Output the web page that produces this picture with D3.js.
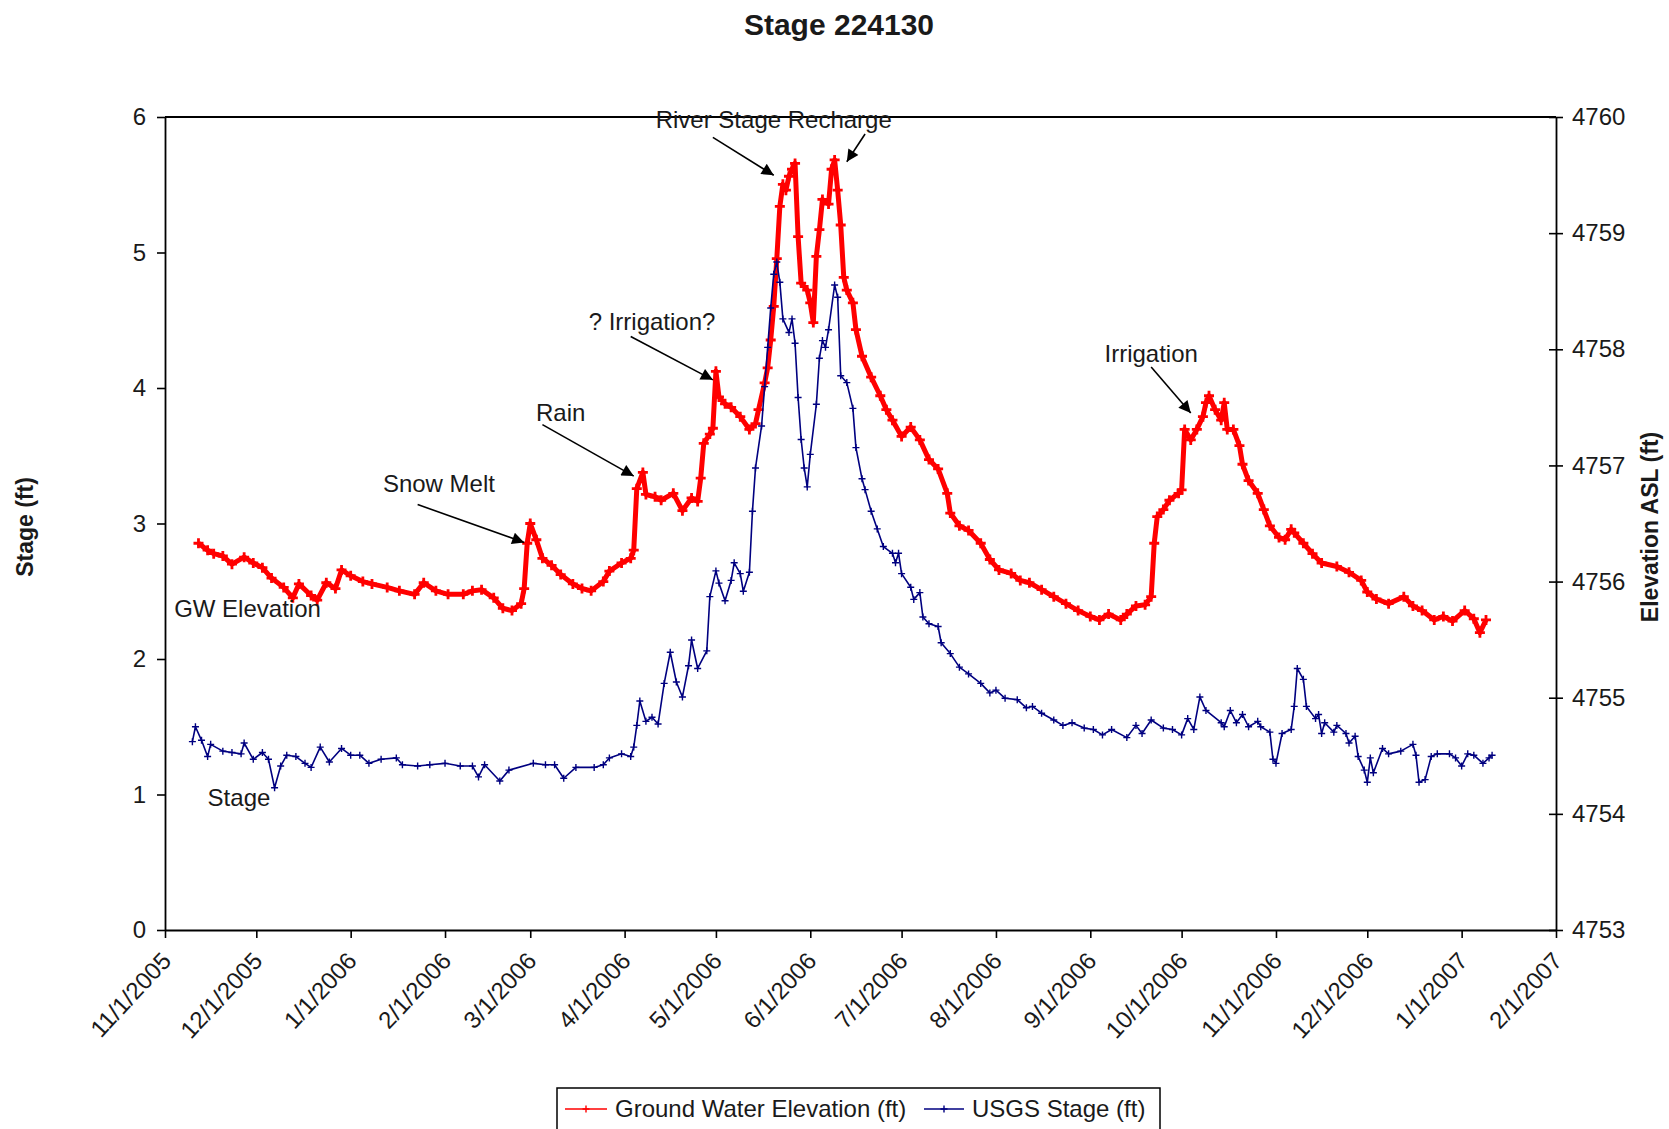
<!DOCTYPE html>
<html>
<head>
<meta charset="utf-8">
<script src="https://cdn.jsdelivr.net/npm/d3@7"></script>
<style>
  html, body { margin: 0; padding: 0; background: #fff; }
  svg text { font-family: "Liberation Sans", Arial, sans-serif; fill: #1a1a1a; }
</style>
</head>
<body>
<svg id="chart" width="1669" height="1129"></svg>
<script>
// ---- USGS stage (ft), left axis ----
const stageDates = [
  "2005-11-10","2005-11-11","2005-11-13","2005-11-15","2005-11-16","2005-11-20","2005-11-23","2005-11-26","2005-11-27","2005-11-30",
  "2005-12-03","2005-12-05","2005-12-07","2005-12-09","2005-12-11","2005-12-14","2005-12-17","2005-12-19","2005-12-22","2005-12-25","2005-12-29",
  "2006-01-01","2006-01-04","2006-01-07","2006-01-11","2006-01-16","2006-01-18","2006-01-23","2006-01-27",
  "2006-02-01","2006-02-06","2006-02-10","2006-02-12","2006-02-14","2006-02-19","2006-02-22",
  "2006-03-02","2006-03-06","2006-03-09","2006-03-12","2006-03-16","2006-03-22","2006-03-25","2006-03-27","2006-03-31",
  "2006-04-03","2006-04-04","2006-04-05","2006-04-06","2006-04-08","2006-04-10","2006-04-12","2006-04-14","2006-04-16","2006-04-18","2006-04-20","2006-04-22","2006-04-23","2006-04-25","2006-04-28","2006-04-29",
  "2006-05-01","2006-05-02","2006-05-04","2006-05-06","2006-05-07","2006-05-09","2006-05-10","2006-05-12","2006-05-13","2006-05-14","2006-05-16","2006-05-17","2006-05-18","2006-05-19","2006-05-20","2006-05-21","2006-05-22","2006-05-23","2006-05-25","2006-05-26","2006-05-27","2006-05-28","2006-05-29","2006-05-30","2006-05-31",
  "2006-06-01","2006-06-03","2006-06-04","2006-06-05","2006-06-06","2006-06-07","2006-06-09","2006-06-10","2006-06-11","2006-06-13","2006-06-15","2006-06-16","2006-06-18","2006-06-19","2006-06-21","2006-06-23","2006-06-25","2006-06-28","2006-06-29","2006-06-30",
  "2006-07-01","2006-07-04","2006-07-05","2006-07-07","2006-07-08","2006-07-10","2006-07-13","2006-07-14","2006-07-17","2006-07-20","2006-07-23","2006-07-27","2006-07-30",
  "2006-08-01","2006-08-04","2006-08-08","2006-08-11","2006-08-13","2006-08-16","2006-08-20","2006-08-23","2006-08-26","2006-08-30",
  "2006-09-02","2006-09-05","2006-09-08","2006-09-13","2006-09-16","2006-09-18","2006-09-21","2006-09-25","2006-09-28",
  "2006-10-01","2006-10-03","2006-10-05","2006-10-07","2006-10-09","2006-10-14","2006-10-15","2006-10-17","2006-10-19","2006-10-21","2006-10-23","2006-10-26","2006-10-27","2006-10-30","2006-10-31",
  "2006-11-01","2006-11-03","2006-11-06","2006-11-07","2006-11-08","2006-11-10","2006-11-11","2006-11-14","2006-11-15","2006-11-16","2006-11-17","2006-11-20","2006-11-21","2006-11-24","2006-11-25","2006-11-27","2006-11-28","2006-11-30",
  "2006-12-01","2006-12-02","2006-12-03","2006-12-06","2006-12-08","2006-12-12","2006-12-16","2006-12-17","2006-12-18","2006-12-20","2006-12-22","2006-12-24","2006-12-28","2006-12-30",
  "2007-01-01","2007-01-03","2007-01-05","2007-01-08","2007-01-10","2007-01-11"
];
const stageValues = [
  1.39,1.50,1.40,1.28,1.37,1.32,1.31,1.30,1.38,1.26,
  1.31,1.26,1.05,1.21,1.29,1.28,1.23,1.20,1.35,1.24,1.34,
  1.29,1.29,1.23,1.26,1.27,1.22,1.21,1.22,
  1.23,1.21,1.21,1.13,1.22,1.10,1.18,
  1.23,1.22,1.22,1.12,1.20,1.20,1.22,1.27,1.30,
  1.28,1.35,1.51,1.69,1.54,1.57,1.52,1.82,2.05,1.83,1.72,1.95,2.14,1.93,2.06,2.46,
  2.65,2.56,2.43,2.58,2.71,2.63,2.50,2.64,3.09,3.41,3.72,4.01,4.30,4.59,4.84,4.93,4.78,4.51,4.41,4.51,4.33,3.93,3.62,3.41,3.27,
  3.51,3.88,4.22,4.35,4.30,4.43,4.76,4.67,4.09,4.04,3.85,3.56,3.33,3.25,3.09,2.96,2.83,2.78,2.71,2.78,
  2.63,2.53,2.44,2.49,2.31,2.26,2.24,2.12,2.04,1.94,1.89,1.82,1.75,
  1.77,1.71,1.70,1.64,1.65,1.60,1.55,1.51,1.53,1.49,
  1.48,1.44,1.48,1.42,1.51,1.45,1.55,1.49,1.48,
  1.44,1.56,1.48,1.72,1.62,1.53,1.50,1.62,1.53,1.59,1.50,1.54,1.50,1.46,1.26,
  1.23,1.45,1.48,1.65,1.93,1.85,1.65,1.56,1.59,1.45,1.53,1.46,1.51,1.45,1.38,1.43,1.28,1.18,
  1.09,1.27,1.16,1.34,1.30,1.32,1.37,1.29,1.09,1.11,1.28,1.30,1.30,1.27,
  1.21,1.30,1.29,1.23,1.27,1.29
];

// ---- Ground water elevation (ft ASL), right axis ----
const gwDates = [
  "2005-11-12","2005-11-15","2005-11-17","2005-11-20","2005-11-23","2005-11-27","2005-11-30",
  "2005-12-03","2005-12-06","2005-12-10","2005-12-13","2005-12-15","2005-12-19","2005-12-21","2005-12-24","2005-12-27","2005-12-29",
  "2006-01-01","2006-01-05","2006-01-08","2006-01-13","2006-01-17","2006-01-22","2006-01-25","2006-01-29",
  "2006-02-02","2006-02-07","2006-02-10","2006-02-13","2006-02-17","2006-02-20","2006-02-23","2006-02-26","2006-02-27","2006-02-28",
  "2006-03-01","2006-03-03","2006-03-05","2006-03-08","2006-03-11","2006-03-15","2006-03-18","2006-03-21","2006-03-25","2006-03-27","2006-03-31",
  "2006-04-03","2006-04-04","2006-04-05","2006-04-07","2006-04-08","2006-04-11","2006-04-13","2006-04-17","2006-04-20","2006-04-23","2006-04-25","2006-04-26","2006-04-27","2006-04-29","2006-04-30",
  "2006-05-01","2006-05-02","2006-05-04","2006-05-06","2006-05-09","2006-05-12","2006-05-14","2006-05-15","2006-05-17","2006-05-18","2006-05-19","2006-05-20","2006-05-21","2006-05-22","2006-05-23","2006-05-24","2006-05-25","2006-05-26","2006-05-27","2006-05-28","2006-05-29","2006-05-31",
  "2006-06-01","2006-06-02","2006-06-03","2006-06-04","2006-06-05","2006-06-07","2006-06-08","2006-06-09","2006-06-10","2006-06-11","2006-06-12","2006-06-13","2006-06-15","2006-06-16","2006-06-18","2006-06-21","2006-06-24","2006-06-26","2006-06-28",
  "2006-07-01","2006-07-04","2006-07-07","2006-07-10","2006-07-13","2006-07-16","2006-07-17","2006-07-20","2006-07-23","2006-07-27","2006-07-30",
  "2006-08-02","2006-08-06","2006-08-09","2006-08-12","2006-08-16","2006-08-20","2006-08-24","2006-08-28",
  "2006-09-01","2006-09-04","2006-09-07","2006-09-11","2006-09-13","2006-09-16","2006-09-19","2006-09-21","2006-09-22","2006-09-23","2006-09-25","2006-09-27","2006-09-30",
  "2006-10-01","2006-10-02","2006-10-04","2006-10-06","2006-10-08","2006-10-09","2006-10-10","2006-10-12","2006-10-14","2006-10-15","2006-10-16","2006-10-18","2006-10-20","2006-10-21","2006-10-23","2006-10-26","2006-10-28","2006-10-30",
  "2006-11-02","2006-11-04","2006-11-06","2006-11-07","2006-11-10","2006-11-13","2006-11-16","2006-11-21","2006-11-25","2006-11-29",
  "2006-12-01","2006-12-04","2006-12-08","2006-12-13","2006-12-16","2006-12-19","2006-12-23","2006-12-26","2006-12-29",
  "2007-01-02","2007-01-05","2007-01-07","2007-01-09"
];
const gwValues = [
  4756.33,4756.27,4756.24,4756.22,4756.15,4756.21,4756.16,
  4756.12,4756.03,4755.95,4755.86,4755.98,4755.88,4755.84,4755.99,4755.94,4756.10,
  4756.05,4756.00,4755.98,4755.95,4755.92,4755.89,4755.99,4755.92,
  4755.89,4755.89,4755.92,4755.93,4755.86,4755.77,4755.75,4755.81,4755.94,4756.33,
  4756.50,4756.36,4756.20,4756.14,4756.06,4755.98,4755.94,4755.92,4756.00,4756.09,4756.16,
  4756.20,4756.27,4756.80,4756.94,4756.75,4756.73,4756.70,4756.76,4756.61,4756.72,4756.69,4756.89,4757.19,4757.27,4757.32,
  4757.81,4757.59,4757.53,4757.50,4757.42,4757.31,4757.36,4757.48,4757.71,4757.84,4758.08,4758.37,4758.78,4759.23,4759.42,4759.37,4759.49,4759.55,4759.60,4758.97,4758.57,4758.51,
  4758.40,4758.23,4758.80,4759.03,4759.29,4759.25,4759.55,4759.63,4759.37,4759.07,4758.62,4758.51,4758.40,4758.17,4757.94,4757.76,4757.60,4757.48,4757.39,
  4757.25,4757.33,4757.22,4757.05,4756.97,4756.76,4756.59,4756.48,4756.44,4756.33,4756.19,
  4756.10,4756.07,4756.01,4755.99,4755.93,4755.87,4755.81,4755.75,
  4755.70,4755.67,4755.72,4755.67,4755.72,4755.79,4755.80,4755.87,4756.33,4756.56,4756.62,4756.70,4756.76,
  4756.79,4757.31,4757.22,4757.31,4757.42,4757.54,4757.60,4757.48,4757.39,4757.54,4757.31,4757.31,4757.17,4757.01,4756.87,4756.76,4756.62,4756.48,
  4756.38,4756.36,4756.45,4756.42,4756.33,4756.24,4756.16,4756.13,4756.08,4756.01,
  4755.91,4755.85,4755.81,4755.87,4755.79,4755.75,4755.67,4755.70,4755.66,
  4755.75,4755.68,4755.56,4755.67
];

// ---- axis ticks ----
const monthTicks = ["2005-11-01","2005-12-01","2006-01-01","2006-02-01","2006-03-01","2006-04-01","2006-05-01","2006-06-01",
  "2006-07-01","2006-08-01","2006-09-01","2006-10-01","2006-11-01","2006-12-01","2007-01-01","2007-02-01"];
const stageTicks = [0, 1, 2, 3, 4, 5, 6];
const elevationTicks = [4753, 4754, 4755, 4756, 4757, 4758, 4759, 4760];

// ---- event notes (placed in date / stage units) ----
const noteText  = ["River Stage Recharge", "? Irrigation?", "Rain", "Snow Melt", "Irrigation", "GW Elevation", "Stage"];
const noteDate  = ["2006-05-20", "2006-04-10", "2006-03-11", "2006-01-30", "2006-09-21", "2005-11-04", "2005-11-15"];
const noteStage = [5.92, 4.43, 3.76, 3.23, 4.19, 2.31, 0.915];
const noteAnchor = ["middle", "middle", "middle", "middle", "middle", "start", "start"];

const arrowFromDate  = ["2006-04-30", "2006-06-19", "2006-04-03", "2006-03-05", "2006-01-23", "2006-09-21"];
const arrowFromStage = [5.85, 5.875, 4.38, 3.73, 3.14, 4.155];
const arrowToDate    = ["2006-05-20", "2006-06-13", "2006-04-30", "2006-04-04", "2006-02-27", "2006-10-04"];
const arrowToStage   = [5.57, 5.67, 4.06, 3.35, 2.86, 3.815];

// ---- drawing ----
const parse = d3.timeParse("%Y-%m-%d");
const svg = d3.select("#chart");

const plot = { left: 165, right: 1556, top: 117, bottom: 930 };

const x = d3.scaleTime()
  .domain([parse("2005-11-01"), parse("2007-02-01")])
  .range([plot.left, plot.right]);
const yStage = d3.scaleLinear().domain([0, 6]).range([plot.bottom, plot.top]);
const yElev = d3.scaleLinear().domain([4753, 4760]).range([plot.bottom, plot.top]);

const stageSeries = stageDates.map((d, i) => ({ date: parse(d), value: stageValues[i] }));
const gwSeries = gwDates.map((d, i) => ({ date: parse(d), value: gwValues[i] }));

svg.append("defs").append("marker")
  .attr("id", "arrowHead")
  .attr("viewBox", "0 0 10 10")
  .attr("refX", 10).attr("refY", 5)
  .attr("markerWidth", 15).attr("markerHeight", 12)
  .attr("markerUnits", "userSpaceOnUse")
  .attr("orient", "auto")
  .append("path").attr("d", "M0,0 L10,5 L0,10 z").attr("fill", "#000");

// title
svg.append("text")
  .attr("x", 839).attr("y", 35)
  .attr("text-anchor", "middle")
  .style("font-size", "30px").style("font-weight", "bold")
  .text("Stage 224130");

// plot frame top edge
svg.append("line")
  .attr("x1", plot.left).attr("x2", plot.right)
  .attr("y1", plot.top).attr("y2", plot.top)
  .attr("stroke", "#000").attr("stroke-width", 1.8);

// series
const crossPath = s => `M${-s},0H${s}M0,${-s}V${s}`;

const gwLine = d3.line().x(d => x(d.date)).y(d => yElev(d.value));
svg.append("path").datum(gwSeries)
  .attr("d", gwLine)
  .attr("fill", "none").attr("stroke", "#ff0000").attr("stroke-width", 5)
  .attr("stroke-linejoin", "round");
svg.append("g").selectAll("path").data(gwSeries).join("path")
  .attr("transform", d => `translate(${x(d.date)},${yElev(d.value)})`)
  .attr("d", crossPath(5))
  .attr("stroke", "#ff0000").attr("stroke-width", 2.8).attr("fill", "none");

const stageLine = d3.line().x(d => x(d.date)).y(d => yStage(d.value));
svg.append("path").datum(stageSeries)
  .attr("d", stageLine)
  .attr("fill", "none").attr("stroke", "#000080").attr("stroke-width", 1.6)
  .attr("stroke-linejoin", "round");
svg.append("g").selectAll("path").data(stageSeries).join("path")
  .attr("transform", d => `translate(${x(d.date)},${yStage(d.value)})`)
  .attr("d", crossPath(3.5))
  .attr("stroke", "#000080").attr("stroke-width", 1.4).attr("fill", "none");

// axes
function styleAxis(g) {
  g.select(".domain").attr("stroke", "#000").attr("stroke-width", 1.8);
  g.selectAll(".tick line").attr("stroke", "#000").attr("stroke-width", 1.6);
  g.selectAll(".tick text").style("font-size", "24px").attr("fill", "#1a1a1a");
}

svg.append("g")
  .attr("transform", `translate(${plot.left},0)`)
  .call(d3.axisLeft(yStage).tickValues(stageTicks).tickFormat(d3.format("d"))
    .tickSize(8).tickPadding(11).tickSizeOuter(0))
  .call(styleAxis);

svg.append("g")
  .attr("transform", `translate(${plot.right},0)`)
  .call(d3.axisRight(yElev).tickValues(elevationTicks).tickFormat(d3.format("d"))
    .tickSize(7).tickPadding(9).tickSizeOuter(0))
  .call(styleAxis)
  .call(g => g.selectAll(".tick line").attr("x1", -7).attr("x2", 7));

const fmt = d3.timeFormat("%-m/%-d/%Y");
svg.append("g")
  .attr("transform", `translate(0,${plot.bottom})`)
  .call(d3.axisBottom(x).tickValues(monthTicks.map(parse)).tickFormat(fmt).tickSize(8).tickSizeOuter(0))
  .call(styleAxis)
  .call(g => g.selectAll(".tick text")
    .attr("x", 0).attr("y", 0).attr("dy", 0)
    .attr("text-anchor", "end")
    .attr("transform", "translate(7,32) rotate(-47)"));

// axis titles
svg.append("text")
  .attr("transform", "translate(33,527) rotate(-90)")
  .attr("text-anchor", "middle")
  .style("font-size", "23px").style("font-weight", "bold")
  .text("Stage (ft)");
svg.append("text")
  .attr("transform", "translate(1658,527) rotate(-90)")
  .attr("text-anchor", "middle")
  .style("font-size", "23px").style("font-weight", "bold")
  .text("Elevation ASL (ft)");

// event notes and arrows
svg.append("g").selectAll("text").data(noteText).join("text")
  .attr("x", (d, i) => x(parse(noteDate[i])))
  .attr("y", (d, i) => yStage(noteStage[i]))
  .attr("text-anchor", (d, i) => noteAnchor[i])
  .style("font-size", "24px")
  .attr("fill", "#222")
  .text(d => d);

svg.append("g").selectAll("line").data(arrowFromDate).join("line")
  .attr("x1", (d, i) => x(parse(d)))
  .attr("y1", (d, i) => yStage(arrowFromStage[i]))
  .attr("x2", (d, i) => x(parse(arrowToDate[i])))
  .attr("y2", (d, i) => yStage(arrowToStage[i]))
  .attr("stroke", "#000").attr("stroke-width", 1.6)
  .attr("marker-end", "url(#arrowHead)");

// legend
const legend = svg.append("g");
legend.append("rect")
  .attr("x", 557).attr("y", 1088).attr("width", 603).attr("height", 60)
  .attr("fill", "#fff").attr("stroke", "#000").attr("stroke-width", 1.5);
const legendItems = [
  { label: "Ground Water Elevation (ft)", color: "#ff0000", x0: 565, x1: 607 },
  { label: "USGS Stage (ft)", color: "#000080", x0: 924, x1: 964 }
];
legendItems.forEach(it => {
  legend.append("line")
    .attr("x1", it.x0).attr("x2", it.x1).attr("y1", 1109).attr("y2", 1109)
    .attr("stroke", it.color).attr("stroke-width", 1.6);
  legend.append("path")
    .attr("transform", `translate(${(it.x0 + it.x1) / 2},1109)`)
    .attr("d", crossPath(3.5))
    .attr("stroke", it.color).attr("stroke-width", 1.4).attr("fill", "none");
  legend.append("text")
    .attr("x", it.x1 + 8).attr("y", 1117)
    .style("font-size", "24px")
    .text(it.label);
});
</script>
</body>
</html>
